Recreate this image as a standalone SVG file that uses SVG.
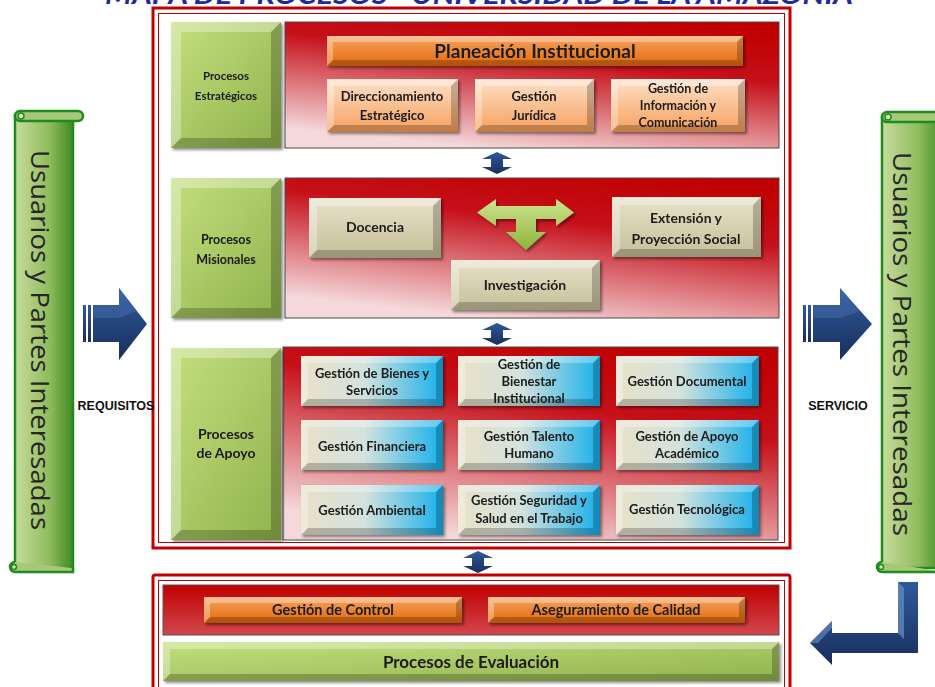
<svg xmlns="http://www.w3.org/2000/svg" width="935" height="687" viewBox="0 0 935 687">
<defs>
<linearGradient id="gGreen" x1="0" y1="0" x2="1" y2="1"><stop offset="0" stop-color="#c4df7e"/><stop offset="1" stop-color="#90b24c"/></linearGradient>
<linearGradient id="gOrange" x1="0" y1="0" x2="0" y2="1"><stop offset="0" stop-color="#f6a462"/><stop offset="1" stop-color="#e36a08"/></linearGradient>
<linearGradient id="gPeach" x1="0" y1="0" x2="0" y2="1"><stop offset="0" stop-color="#fde1ca"/><stop offset="1" stop-color="#f6a05c"/></linearGradient>
<linearGradient id="gTan" x1="0" y1="0" x2="0" y2="1"><stop offset="0" stop-color="#e6e1ca"/><stop offset="1" stop-color="#c7bf98"/></linearGradient>
<linearGradient id="gBlue" x1="0" y1="0" x2="1" y2="0"><stop offset="0" stop-color="#e8e1c8"/><stop offset="0.45" stop-color="#d3e2dd"/><stop offset="1" stop-color="#16b0ec"/></linearGradient>
<linearGradient id="gPanel" x1="0.8" y1="0" x2="0.4" y2="1"><stop offset="0" stop-color="#c00000"/><stop offset="0.35" stop-color="#c5101a"/><stop offset="1" stop-color="#f4d8da"/></linearGradient>
<linearGradient id="gBar" x1="0" y1="0" x2="0" y2="1"><stop offset="0" stop-color="#c00000"/><stop offset="1" stop-color="#d2474e"/></linearGradient>
<linearGradient id="gScroll" x1="0" y1="0" x2="1" y2="0"><stop offset="0" stop-color="#c8dc9c"/><stop offset="0.6" stop-color="#8fbb5c"/><stop offset="1" stop-color="#3f8a22"/></linearGradient>
<linearGradient id="gNavy" x1="0" y1="0" x2="0" y2="1"><stop offset="0" stop-color="#2f5a9c"/><stop offset="1" stop-color="#182f5c"/></linearGradient>
<linearGradient id="gTee" x1="0" y1="0" x2="0" y2="1"><stop offset="0" stop-color="#cfe48f"/><stop offset="1" stop-color="#8db43c"/></linearGradient>
<filter id="sh" x="-10%" y="-10%" width="130%" height="140%"><feDropShadow dx="2" dy="2" stdDeviation="1.5" flood-color="#000" flood-opacity="0.45"/></filter>
<path id="dbl" d="M0,0 L15,7 L6,7 L6,15 L15,15 L0,22 L-15,15 L-6,15 L-6,7 L-15,7 Z"/>
<style>
.lt{fill:#fff;opacity:.32}
.dk{fill:#000;opacity:.22}
.t{font-family:Lato,"Open Sans","Liberation Sans",sans-serif;font-weight:bold;fill:#1a1a1a;text-anchor:middle}
.s12{font-size:13px}
.frame{fill:none;stroke:#c00000}
.panel{fill:url(#gPanel);stroke:#4a4a4a;stroke-width:1}
.navy{fill:url(#gNavy)}
.scroll{fill:url(#gScroll);stroke:#1e8c1e;stroke-width:2.5}
.vt{font-family:"Open Sans","Liberation Sans",sans-serif;font-size:26px;fill:#262626;text-anchor:middle}
.lbl{font-family:"Liberation Sans",Arial,sans-serif;font-weight:bold;font-size:12.5px;fill:#111;text-anchor:middle}
</style>
</defs>
<rect width="935" height="687" fill="#fff"/>
<text x="479" y="4" font-family="Lato,'Liberation Sans',sans-serif" font-weight="bold" font-style="italic" font-size="26" fill="#1f2a9a" text-anchor="middle" textLength="748" lengthAdjust="spacingAndGlyphs">MAPA DE PROCESOS - UNIVERSIDAD DE LA AMAZONIA</text>

<!-- Main frames -->
<g id="frame-main">
<rect class="frame" x="153" y="8" width="637" height="540" stroke-width="3"/>
<rect class="frame" x="158.5" y="13.5" width="626" height="529" stroke-width="1"/>
</g>
<g id="frame-eval">
<rect class="frame" x="153" y="575" width="637" height="130" rx="2" stroke-width="3"/>
<rect class="frame" x="158.5" y="580.5" width="626" height="120" stroke-width="1"/>
</g>

<!-- Panels -->
<rect id="panel-estrategicos" class="panel" x="285" y="22" width="494" height="126"/>
<rect id="panel-misionales" class="panel" x="285" y="178" width="494" height="140"/>
<rect id="panel-apoyo" class="panel" x="283" y="347" width="495" height="193"/>
<rect id="panel-control" x="163" y="585" width="616" height="50" fill="url(#gBar)" stroke="#555" stroke-width="1"/>

<!-- Side green boxes -->
<g id="n-estrategicos" filter="url(#sh)">
<rect x="171" y="22" width="110" height="126" fill="url(#gGreen)"/>
<polygon class="lt" points="171,22 281,22 271,32 181,32 181,138 171,148"/>
<polygon class="dk" points="281,22 281,148 171,148 181,138 271,138 271,32"/>
<text class="t" font-size="11.5" x="226" y="80">Procesos</text>
<text class="t" font-size="11.5" x="226" y="100">Estratégicos</text>
</g>
<g id="n-misionales" filter="url(#sh)">
<rect x="171" y="178" width="110" height="140" fill="url(#gGreen)"/>
<polygon class="lt" points="171,178 281,178 271,188 181,188 181,308 171,318"/>
<polygon class="dk" points="281,178 281,318 171,318 181,308 271,308 271,188"/>
<text class="t" font-size="12.5" x="226" y="244">Procesos</text>
<text class="t" font-size="12.5" x="226" y="264">Misionales</text>
</g>
<g id="n-apoyo" filter="url(#sh)">
<rect x="171" y="348" width="110" height="192" fill="url(#gGreen)"/>
<polygon class="lt" points="171,348 281,348 271,358 181,358 181,530 171,540"/>
<polygon class="dk" points="281,348 281,540 171,540 181,530 271,530 271,358"/>
<text class="t" font-size="14" x="226" y="439">Procesos</text>
<text class="t" font-size="14" x="226" y="458">de Apoyo</text>
</g>

<!-- Estrategicos -->
<g id="n-planeacion" filter="url(#sh)">
<rect x="327" y="36" width="416" height="30" fill="url(#gOrange)"/>
<polygon class="lt" points="327,36 743,36 737,42 333,42 333,60 327,66"/>
<polygon class="dk" points="743,36 743,66 327,66 333,60 737,60 737,42"/>
<text class="t" font-size="19" x="535" y="58">Planeación Institucional</text>
</g>
<g id="n-direccionamiento" filter="url(#sh)">
<rect x="327" y="79" width="131" height="53" fill="url(#gPeach)"/>
<polygon class="lt" points="327,79 458,79 451,86 334,86 334,125 327,132"/>
<polygon class="dk" points="458,79 458,132 327,132 334,125 451,125 451,86"/>
<text class="t s12" x="392" y="101">Direccionamiento</text>
<text class="t s12" x="392" y="120">Estratégico</text>
</g>
<g id="n-juridica" filter="url(#sh)">
<rect x="475" y="79" width="119" height="53" fill="url(#gPeach)"/>
<polygon class="lt" points="475,79 594,79 587,86 482,86 482,125 475,132"/>
<polygon class="dk" points="594,79 594,132 475,132 482,125 587,125 587,86"/>
<text class="t s12" x="534" y="101">Gestión</text>
<text class="t s12" x="534" y="120">Jurídica</text>
</g>
<g id="n-informacion" filter="url(#sh)">
<rect x="611" y="79" width="134" height="53" fill="url(#gPeach)"/>
<polygon class="lt" points="611,79 745,79 738,86 618,86 618,125 611,132"/>
<polygon class="dk" points="745,79 745,132 611,132 618,125 738,125 738,86"/>
<text class="t" font-size="12.5" x="678" y="93">Gestión de</text>
<text class="t" font-size="12.5" x="678" y="110">Información y</text>
<text class="t" font-size="12.5" x="678" y="127">Comunicación</text>
</g>

<!-- Misionales -->
<g id="n-docencia" filter="url(#sh)">
<rect x="309" y="198" width="132" height="60" fill="url(#gTan)"/>
<polygon class="lt" points="309,198 441,198 433,206 317,206 317,250 309,258"/>
<polygon class="dk" points="441,198 441,258 309,258 317,250 433,250 433,206"/>
<text class="t" font-size="14" x="375" y="232">Docencia</text>
</g>
<g id="n-extension" filter="url(#sh)">
<rect x="612" y="197" width="149" height="60" fill="url(#gTan)"/>
<polygon class="lt" points="612,197 761,197 753,205 620,205 620,249 612,257"/>
<polygon class="dk" points="761,197 761,257 612,257 620,249 753,249 753,205"/>
<text class="t" font-size="14" x="686" y="223">Extensión y</text>
<text class="t" font-size="14" x="686" y="244">Proyección Social</text>
</g>
<g id="n-investigacion" filter="url(#sh)">
<rect x="451" y="260" width="149" height="50" fill="url(#gTan)"/>
<polygon class="lt" points="451,260 600,260 592,268 459,268 459,302 451,310"/>
<polygon class="dk" points="600,260 600,310 451,310 459,302 592,302 592,268"/>
<text class="t" font-size="14" x="525" y="290">Investigación</text>
</g>

<!-- Apoyo grid -->
<g id="n-bienes" filter="url(#sh)">
<rect x="301" y="356" width="142" height="50" fill="url(#gBlue)"/>
<polygon class="lt" points="301,356 443,356 436,363 308,363 308,399 301,406"/>
<polygon class="dk" points="443,356 443,406 301,406 308,399 436,399 436,363"/>
<text class="t s12" x="372" y="378">Gestión de Bienes y</text>
<text class="t s12" x="372" y="395">Servicios</text>
</g>
<g id="n-bienestar" filter="url(#sh)">
<rect x="458" y="356" width="142" height="50" fill="url(#gBlue)"/>
<polygon class="lt" points="458,356 600,356 593,363 465,363 465,399 458,406"/>
<polygon class="dk" points="600,356 600,406 458,406 465,399 593,399 593,363"/>
<text class="t s12" x="529" y="369">Gestión de</text>
<text class="t s12" x="529" y="386">Bienestar</text>
<text class="t s12" x="529" y="403">Institucional</text>
</g>
<g id="n-documental" filter="url(#sh)">
<rect x="616" y="356" width="143" height="50" fill="url(#gBlue)"/>
<polygon class="lt" points="616,356 759,356 752,363 623,363 623,399 616,406"/>
<polygon class="dk" points="759,356 759,406 616,406 623,399 752,399 752,363"/>
<text class="t s12" x="687" y="386">Gestión Documental</text>
</g>
<g id="n-financiera" filter="url(#sh)">
<rect x="301" y="420" width="142" height="50" fill="url(#gBlue)"/>
<polygon class="lt" points="301,420 443,420 436,427 308,427 308,463 301,470"/>
<polygon class="dk" points="443,420 443,470 301,470 308,463 436,463 436,427"/>
<text class="t s12" x="372" y="451">Gestión Financiera</text>
</g>
<g id="n-talento" filter="url(#sh)">
<rect x="458" y="420" width="142" height="50" fill="url(#gBlue)"/>
<polygon class="lt" points="458,420 600,420 593,427 465,427 465,463 458,470"/>
<polygon class="dk" points="600,420 600,470 458,470 465,463 593,463 593,427"/>
<text class="t s12" x="529" y="441">Gestión Talento</text>
<text class="t s12" x="529" y="458">Humano</text>
</g>
<g id="n-academico" filter="url(#sh)">
<rect x="616" y="420" width="143" height="50" fill="url(#gBlue)"/>
<polygon class="lt" points="616,420 759,420 752,427 623,427 623,463 616,470"/>
<polygon class="dk" points="759,420 759,470 616,470 623,463 752,463 752,427"/>
<text class="t s12" x="687" y="441">Gestión de Apoyo</text>
<text class="t s12" x="687" y="458">Académico</text>
</g>
<g id="n-ambiental" filter="url(#sh)">
<rect x="301" y="485" width="142" height="50" fill="url(#gBlue)"/>
<polygon class="lt" points="301,485 443,485 436,492 308,492 308,528 301,535"/>
<polygon class="dk" points="443,485 443,535 301,535 308,528 436,528 436,492"/>
<text class="t s12" x="372" y="515">Gestión Ambiental</text>
</g>
<g id="n-seguridad" filter="url(#sh)">
<rect x="458" y="485" width="142" height="50" fill="url(#gBlue)"/>
<polygon class="lt" points="458,485 600,485 593,492 465,492 465,528 458,535"/>
<polygon class="dk" points="600,485 600,535 458,535 465,528 593,528 593,492"/>
<text class="t s12" x="529" y="505">Gestión Seguridad y</text>
<text class="t s12" x="529" y="523">Salud en el Trabajo</text>
</g>
<g id="n-tecnologica" filter="url(#sh)">
<rect x="616" y="485" width="143" height="50" fill="url(#gBlue)"/>
<polygon class="lt" points="616,485 759,485 752,492 623,492 623,528 616,535"/>
<polygon class="dk" points="759,485 759,535 616,535 623,528 752,528 752,492"/>
<text class="t s12" x="687" y="514">Gestión Tecnológica</text>
</g>

<!-- Evaluacion -->
<g id="n-control" filter="url(#sh)">
<rect x="204" y="597" width="258" height="26" fill="url(#gOrange)"/>
<polygon class="lt" points="204,597 462,597 456,603 210,603 210,617 204,623"/>
<polygon class="dk" points="462,597 462,623 204,623 210,617 456,617 456,603"/>
<text class="t" font-size="14.5" x="333" y="615">Gestión de Control</text>
</g>
<g id="n-calidad" filter="url(#sh)">
<rect x="488" y="597" width="257" height="26" fill="url(#gOrange)"/>
<polygon class="lt" points="488,597 745,597 739,603 494,603 494,617 488,623"/>
<polygon class="dk" points="745,597 745,623 488,623 494,617 739,617 739,603"/>
<text class="t" font-size="14.5" x="616" y="615">Aseguramiento de Calidad</text>
</g>
<g id="n-evaluacion" filter="url(#sh)">
<rect x="163" y="642" width="616" height="39" fill="url(#gGreen)"/>
<polygon class="lt" points="163,642 779,642 772,649 170,649 170,674 163,681"/>
<polygon class="dk" points="779,642 779,681 163,681 170,674 772,674 772,649"/>
<text class="t" font-size="17" x="471" y="668">Procesos de Evaluación</text>
</g>

<!-- Scrolls -->
<g id="n-usuarios-in">
<rect class="scroll" x="15" y="116" width="58" height="452"/>
<rect x="15" y="111" width="68" height="10" rx="5" fill="#a6c878" stroke="#1e8c1e" stroke-width="2.5"/>
<circle cx="21" cy="116" r="3" fill="#d6e8b4" stroke="#1e8c1e" stroke-width="1.5"/>
<path d="M15,562 a5,5 0 1 0 0,10 L73,572 L73,568" fill="#a6c878" stroke="#1e8c1e" stroke-width="2.5"/>
<circle cx="14" cy="567" r="2.5" fill="#d6e8b4" stroke="#1e8c1e" stroke-width="1.5"/>
<text class="vt" transform="translate(31,340) rotate(90)" textLength="380" lengthAdjust="spacingAndGlyphs">Usuarios y Partes Interesadas</text>
</g>
<g id="n-usuarios-out">
<rect class="scroll" x="882" y="117" width="62" height="451"/>
<rect x="882" y="112" width="62" height="10" rx="5" fill="#a6c878" stroke="#1e8c1e" stroke-width="2.5"/>
<circle cx="888" cy="117" r="3" fill="#d6e8b4" stroke="#1e8c1e" stroke-width="1.5"/>
<path d="M882,562 a5,5 0 1 0 0,10 L944,572" fill="#a6c878" stroke="#1e8c1e" stroke-width="2.5"/>
<circle cx="881" cy="567" r="2.5" fill="#d6e8b4" stroke="#1e8c1e" stroke-width="1.5"/>
<text class="vt" transform="translate(893,344) rotate(90)" textLength="384" lengthAdjust="spacingAndGlyphs">Usuarios y Partes Interesadas</text>
</g>

<!-- Connectors -->
<g id="connectors">
<g id="c-requisitos">
<rect class="navy" x="83" y="305" width="3" height="37"/>
<rect class="navy" x="88" y="305" width="3" height="37"/>
<path class="navy" d="M93,305 L119,305 L119,288 L147,324 L119,360 L119,342 L93,342 Z"/>
<path d="M93,305 L119,305 L119,288 L137,311 L119,318 L93,318 Z" fill="#4a72b0" opacity="0.45"/>
<text class="lbl" x="116" y="410">REQUISITOS</text>
</g>
<g id="c-servicio">
<rect class="navy" x="803" y="305" width="3" height="37"/>
<rect class="navy" x="808" y="305" width="3" height="37"/>
<path class="navy" d="M813,305 L840,305 L840,288 L872,324 L840,360 L840,342 L813,342 Z"/>
<path d="M813,305 L840,305 L840,288 L860,311 L840,318 L813,318 Z" fill="#4a72b0" opacity="0.45"/>
<text class="lbl" x="838" y="410">SERVICIO</text>
</g>
<use href="#dbl" class="navy" x="497" y="152"/>
<use href="#dbl" class="navy" x="497" y="323"/>
<use href="#dbl" class="navy" x="478" y="551"/>
<g id="c-feedback">
<path class="navy" d="M898,582 L918,582 L918,653 L832,653 L832,665 L810,643 L832,621 L832,633 L898,633 Z"/>
<polygon points="898,582 904,588 904,639 898,633" fill="#6a8fc6" opacity="0.7"/>
<polygon points="810,643 832,621 832,628 818,643" fill="#6a8fc6" opacity="0.6"/>
</g>
<g id="c-tee" filter="url(#sh)">
<path fill="url(#gTee)" d="M477,212.5 L496,199 L496,206 L556,206 L556,199 L574,212.5 L556,226 L556,219 L536,219 L536,232 L546,232 L526,250 L506,232 L516,232 L516,219 L496,219 L496,226 Z"/>
</g>
</g>
</svg>
